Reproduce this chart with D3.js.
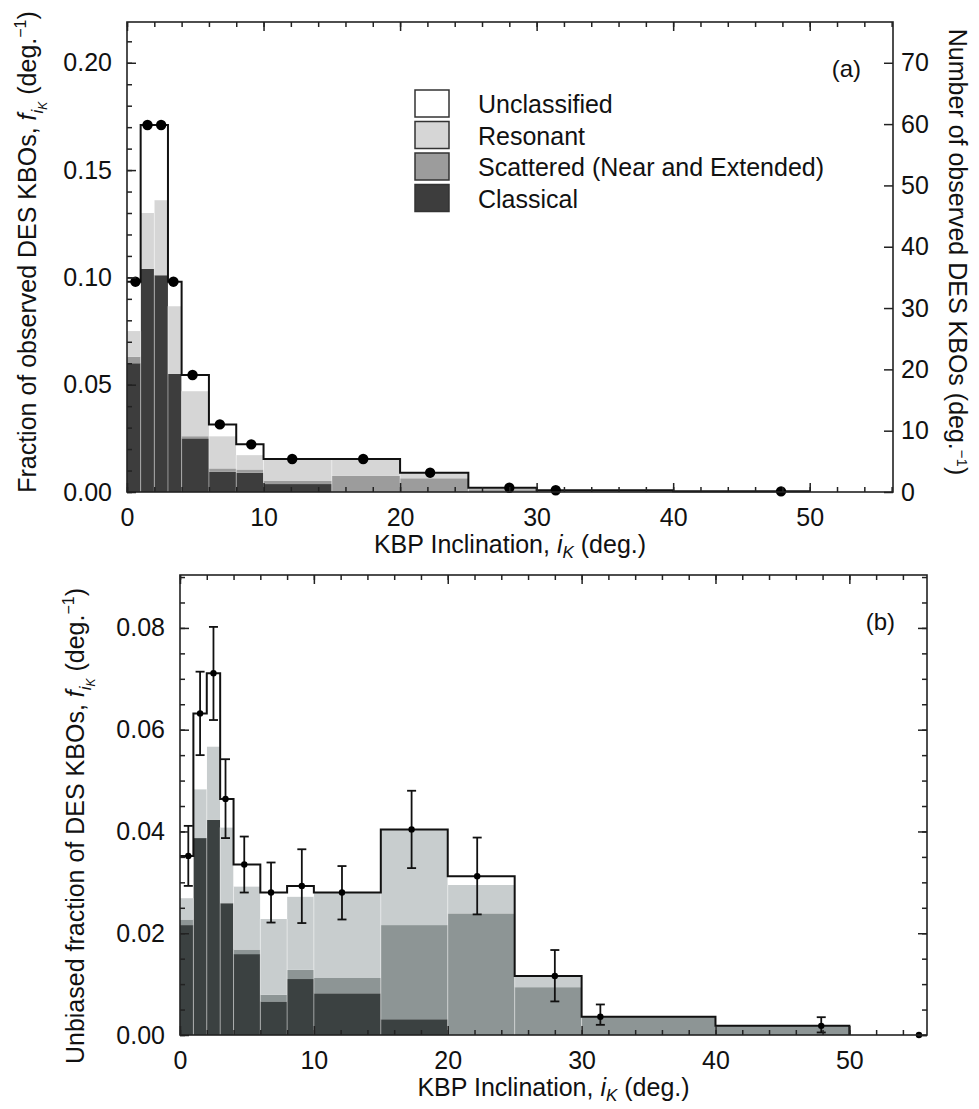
<!DOCTYPE html>
<html>
<head>
<meta charset="utf-8">
<script src="https://cdn.jsdelivr.net/npm/d3@7"></script>
<style>
  body { margin: 0; background: #fff; }
  svg text { font-family: "Liberation Sans", Arial, Helvetica, sans-serif; fill: #111; }
</style>
</head>
<body>
<svg id="fig" width="979" height="1109"></svg>
<script>
// bin edges (deg.) shared by both panels
const binEdges = [0, 1, 2, 3, 4, 6, 8, 10, 15, 20, 25, 30, 40, 50];
const classNames = ["Classical", "Scattered (Near and Extended)", "Resonant", "Unclassified"];
// mean inclination of the objects in each bin (where the dots sit)
const meanIncl = [0.62, 1.5, 2.5, 3.4, 4.8, 6.8, 9.1, 12.1, 17.3, 22.2, 28.0, 31.4, 47.9];

// panel (a): observed fraction per deg, by class
const aClassical    = [0.060, 0.104, 0.101, 0.055, 0.025, 0.0095, 0.009, 0.0037, 0, 0, 0, 0, 0];
const aScattered    = [0.003, 0, 0, 0, 0.001, 0.0015, 0.0015, 0.0016, 0.0076, 0.0064, 0.0013, 0.0008, 0.0003];
const aResonant     = [0.012, 0.026, 0.035, 0.0316, 0.021, 0.015, 0.0067, 0.0101, 0.0078, 0.0026, 0.0007, 0, 0];
const aUnclassified = [0.023, 0.041, 0.035, 0.0114, 0.0075, 0.0055, 0.005, 0, 0, 0, 0, 0, 0];
const countsPerFraction = 350;   // right axis: number of objects

// panel (b): unbiased fraction per deg, by class
const bClassical    = [0.0216, 0.0387, 0.0423, 0.0259, 0.0159, 0.0066, 0.011, 0.0082, 0.0031, 0, 0, 0, 0];
const bScattered    = [0.0011, 0, 0, 0, 0.0009, 0.0013, 0.0018, 0.003, 0.0185, 0.0239, 0.0094, 0.0036, 0.0018];
const bResonant     = [0.0042, 0.0096, 0.0144, 0.0149, 0.0124, 0.0149, 0.0144, 0.0168, 0.0188, 0.0056, 0.0022, 0, 0];
const bUnclassified = [0.0083, 0.0149, 0.0144, 0.0056, 0.0043, 0.0052, 0.0021, 0, 0, 0.0017, 0, 0, 0];
const bErrLow  = [0.0293, 0.055, 0.0619, 0.0387, 0.028, 0.0221, 0.022, 0.0227, 0.0328, 0.0237, 0.0066, 0.002, 0.0005];
const bErrHigh = [0.0411, 0.0714, 0.0802, 0.0542, 0.039, 0.0339, 0.0365, 0.0332, 0.048, 0.0388, 0.0167, 0.006, 0.0035];
const bTailIncl = [55.2];
const bTailFrac = [0];

const svg = d3.select("#fig");
const FS = 25;

function buildRows(cl, sc, re, un) {
  return binEdges.slice(0, -1).map((lo, i) => ({
    lo: lo, hi: binEdges[i + 1],
    "Classical": cl[i], "Scattered (Near and Extended)": sc[i], "Resonant": re[i], "Unclassified": un[i]
  }));
}

// f_{i_K} (deg.^-1) label pieces
function fracLabel(t, lead) {
  t.append("tspan").text(lead);
  t.append("tspan").attr("font-style", "italic").text("f");
  t.append("tspan").attr("font-style", "italic").attr("font-size", 17).attr("dy", 7).text("i");
  t.append("tspan").attr("font-style", "italic").attr("font-size", 12).attr("dy", 4).text("K");
  t.append("tspan").attr("dy", -11).text(" (deg.");
  t.append("tspan").attr("font-size", 16).attr("dy", -10).text("\u22121");
  t.append("tspan").attr("dy", 10).text(")");
}
function inclLabel(t) {
  t.append("tspan").text("KBP Inclination, ");
  t.append("tspan").attr("font-style", "italic").text("i");
  t.append("tspan").attr("font-style", "italic").attr("font-size", 17).attr("dy", 5).text("K");
  t.append("tspan").attr("dy", -5).text(" (deg.)");
}

function drawPanel(p) {
  const g = svg.append("g");
  const x = d3.scaleLinear().domain([0, p.xMax]).range([p.left, p.right]);
  const y = d3.scaleLinear().domain([0, p.yMax]).range([p.bottom, p.top]);

  const rows = buildRows(...p.series);
  const stack = d3.stack().keys(classNames)(rows);

  // stacked fills
  g.selectAll("g.layer").data(stack).join("g")
    .attr("class", "layer")
    .attr("fill", (d, i) => p.colors[i])
    .selectAll("rect").data(d => d).join("rect")
      .attr("x", d => x(d.data.lo))
      .attr("width", d => x(d.data.hi) - x(d.data.lo))
      .attr("y", d => y(d[1]))
      .attr("height", d => Math.max(0, y(d[0]) - y(d[1])));

  // faint bin separators inside the filled part
  const filled = rows.map(r => r["Classical"] + r["Scattered (Near and Extended)"] + r["Resonant"]);
  g.selectAll("line.sep").data(binEdges.slice(1, -1)).join("line")
    .attr("class", "sep")
    .attr("x1", d => x(d)).attr("x2", d => x(d))
    .attr("y1", y(0))
    .attr("y2", (d, i) => y(Math.min(filled[i], filled[i + 1])))
    .attr("stroke", "#ffffff").attr("stroke-opacity", 0.45).attr("stroke-width", 1);

  // step outline of the total
  const totals = rows.map(r => classNames.reduce((s, k) => s + r[k], 0));
  const pts = [[0, totals[0]]];
  rows.forEach((r, i) => {
    pts.push([r.lo, totals[i]]);
    pts.push([r.hi, totals[i]]);
  });
  pts.push([binEdges[binEdges.length - 1], 0]);
  g.append("path")
    .attr("d", d3.line().x(d => x(d[0])).y(d => y(d[1]))(pts))
    .attr("fill", "none").attr("stroke", "#111").attr("stroke-width", 2);

  // error bars
  if (p.errLow) {
    const eb = g.selectAll("g.err").data(meanIncl).join("g").attr("class", "err");
    eb.append("line")
      .attr("x1", d => x(d)).attr("x2", d => x(d))
      .attr("y1", (d, i) => y(p.errLow[i])).attr("y2", (d, i) => y(p.errHigh[i]));
    eb.append("line")
      .attr("x1", d => x(d) - 4.5).attr("x2", d => x(d) + 4.5)
      .attr("y1", (d, i) => y(p.errLow[i])).attr("y2", (d, i) => y(p.errLow[i]));
    eb.append("line")
      .attr("x1", d => x(d) - 4.5).attr("x2", d => x(d) + 4.5)
      .attr("y1", (d, i) => y(p.errHigh[i])).attr("y2", (d, i) => y(p.errHigh[i]));
    eb.selectAll("line").attr("stroke", "#111").attr("stroke-width", 1.8);
  }

  // dots
  g.selectAll("circle.dot").data(meanIncl).join("circle")
    .attr("class", "dot")
    .attr("cx", d => x(d)).attr("cy", (d, i) => y(totals[i]))
    .attr("r", p.dotR).attr("fill", "#000");
  if (p.tailIncl) {
    g.selectAll("circle.tail").data(p.tailIncl).join("circle")
      .attr("class", "tail")
      .attr("cx", d => x(d)).attr("cy", (d, i) => y(p.tailFrac[i]))
      .attr("r", p.dotR).attr("fill", "#000");
  }

  // axes with inward ticks
  const ax = (sel, axis) => {
    const a = g.append("g").attr("transform", sel).call(axis);
    a.select(".domain").remove();
    a.selectAll(".tick line").attr("stroke", "#222").attr("stroke-width", 1.5);
    a.selectAll("text").attr("font-size", FS).attr("fill", "#111");
    return a;
  };
  const none = () => "";
  ax(`translate(0,${p.bottom})`, d3.axisBottom(x).tickValues(d3.range(0, p.xMax, 10)).tickSize(-9).tickPadding(16));
  ax(`translate(0,${p.bottom})`, d3.axisBottom(x).tickValues(d3.range(0, p.xMax, 2)).tickSize(-5).tickFormat(none));
  ax(`translate(0,${p.top})`, d3.axisTop(x).tickValues(d3.range(0, p.xMax, 10)).tickSize(-9).tickFormat(none));
  ax(`translate(0,${p.top})`, d3.axisTop(x).tickValues(d3.range(0, p.xMax, 2)).tickSize(-5).tickFormat(none));

  ax(`translate(${p.left},0)`, d3.axisLeft(y).tickValues(p.yMajor).tickSize(-9).tickPadding(15).tickFormat(d3.format(".2f")));
  ax(`translate(${p.left},0)`, d3.axisLeft(y).tickValues(p.yMinor).tickSize(-5).tickFormat(none));

  if (p.counts) {
    const yc = d3.scaleLinear().domain([0, p.yMax * p.counts]).range([p.bottom, p.top]);
    ax(`translate(${p.right},0)`, d3.axisRight(yc).tickValues(d3.range(0, 71, 10)).tickSize(-9).tickPadding(8));
  } else {
    ax(`translate(${p.right},0)`, d3.axisRight(y).tickValues(p.yMajor).tickSize(-9).tickFormat(none));
    ax(`translate(${p.right},0)`, d3.axisRight(y).tickValues(p.yMinor).tickSize(-5).tickFormat(none));
  }

  // frame
  g.append("rect")
    .attr("x", p.left).attr("y", p.top)
    .attr("width", p.right - p.left).attr("height", p.bottom - p.top)
    .attr("fill", "none").attr("stroke", "#222").attr("stroke-width", 1.6);

  // titles
  const xt = g.append("text")
    .attr("x", (p.left + p.right) / 2).attr("y", p.bottom + 61)
    .attr("text-anchor", "middle").attr("font-size", FS);
  inclLabel(xt);

  const yt = g.append("text")
    .attr("transform", `translate(${p.yTitleX},${p.yTitleY}) rotate(-90)`)
    .attr("text-anchor", "middle").attr("font-size", FS);
  fracLabel(yt, p.yTitle);

  g.append("text")
    .attr("x", p.right - 32).attr("y", p.top + 55)
    .attr("text-anchor", "end").attr("font-size", FS - 1)
    .text(p.tag);

  return { g, x, y };
}

const pa = drawPanel({
  left: 127, right: 893, top: 22, bottom: 492,
  xMax: 56.1, yMax: 0.219,
  series: [aClassical, aScattered, aResonant, aUnclassified],
  colors: ["#3d3d3d", "#9c9c9c", "#d6d6d6", "#ffffff"],
  yMajor: d3.range(0, 0.21, 0.05), yMinor: d3.range(0, 0.215, 0.01),
  yTitle: "Fraction of observed DES KBOs, ", yTitleX: 36, yTitleY: 252,
  counts: countsPerFraction, dotR: 5.2, tag: "(a)"
});

const pb = drawPanel({
  left: 180, right: 927, top: 575, bottom: 1035,
  xMax: 55.8, yMax: 0.0904,
  series: [bClassical, bScattered, bResonant, bUnclassified],
  colors: ["#3b4141", "#8d9595", "#c8cdce", "#ffffff"],
  yMajor: d3.range(0, 0.081, 0.02), yMinor: d3.range(0, 0.0901, 0.005),
  yTitle: "Unbiased fraction of DES KBOs, ", yTitleX: 84, yTitleY: 826,
  errLow: bErrLow, errHigh: bErrHigh, tailIncl: bTailIncl, tailFrac: bTailFrac,
  dotR: 3.2, tag: "(b)"
});

// right-hand title of panel (a)
const rt = svg.append("text")
  .attr("transform", `translate(949,252) rotate(90)`)
  .attr("text-anchor", "middle").attr("font-size", FS);
rt.append("tspan").text("Number of observed DES KBOs (deg.");
rt.append("tspan").attr("font-size", 15).attr("dy", -8).text("\u22121");
rt.append("tspan").attr("dy", 8).text(")");

// legend of panel (a), top entry first
const legendOrder = ["Unclassified", "Resonant", "Scattered (Near and Extended)", "Classical"];
const legendFill = { "Unclassified": "#ffffff", "Resonant": "#d6d6d6", "Scattered (Near and Extended)": "#9c9c9c", "Classical": "#3d3d3d" };
const leg = svg.append("g").attr("transform", "translate(415,90)");
const li = leg.selectAll("g").data(legendOrder).join("g")
  .attr("transform", (d, i) => `translate(0,${i * 31.5})`);
li.append("rect").attr("width", 34).attr("height", 27)
  .attr("fill", d => legendFill[d]).attr("stroke", "#333").attr("stroke-width", 1.5);
li.append("text").attr("x", 63).attr("y", 23).attr("font-size", FS).text(d => d);
</script>
</body>
</html>
